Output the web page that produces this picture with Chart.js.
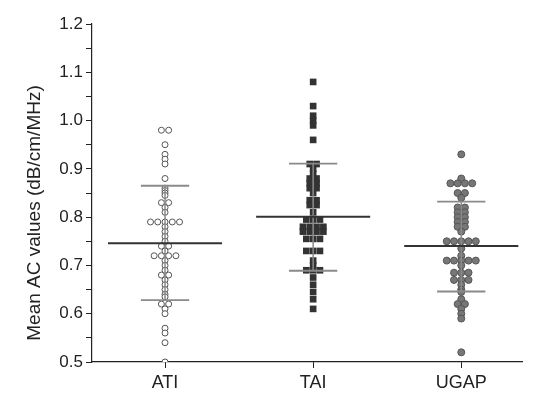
<!DOCTYPE html>
<html>
<head>
<meta charset="utf-8">
<script src="https://cdn.jsdelivr.net/npm/chart.js@4"></script>
<style>
  html, body { margin: 0; padding: 0; background: #fff; }
</style>
</head>
<body>
<canvas id="myChart" width="538" height="405"></canvas>
<script>
// categories and values
const categories = ["ATI", "TAI", "UGAP"];
const atiValues = [0.98, 0.98, 0.95, 0.93, 0.92, 0.91, 0.88, 0.86, 0.855, 0.85, 0.845, 0.83, 0.83, 0.82, 0.81,
  0.79, 0.79, 0.79, 0.79, 0.79, 0.78, 0.77, 0.76, 0.75, 0.74, 0.74, 0.73, 0.72, 0.72, 0.72, 0.72, 0.71, 0.70,
  0.69, 0.68, 0.68, 0.67, 0.66, 0.65, 0.64, 0.635, 0.62, 0.62, 0.61, 0.60, 0.57, 0.56, 0.54, 0.50];
const taiValues = [1.08, 1.03, 1.01, 1.00, 0.99, 0.96, 0.91, 0.91, 0.90, 0.89, 0.88, 0.88, 0.87, 0.87, 0.86, 0.86,
  0.85, 0.835, 0.835, 0.825, 0.825, 0.81, 0.795, 0.795, 0.795, 0.78, 0.78, 0.78, 0.78, 0.77, 0.77, 0.77, 0.77,
  0.755, 0.755, 0.755, 0.73, 0.73, 0.73, 0.71, 0.70, 0.69, 0.69, 0.69, 0.675, 0.66, 0.645, 0.63, 0.61];
const ugapValues = [0.93, 0.88, 0.87, 0.87, 0.87, 0.87, 0.85, 0.85, 0.84, 0.82, 0.82, 0.81, 0.81, 0.80, 0.80,
  0.79, 0.79, 0.78, 0.78, 0.77, 0.75, 0.75, 0.75, 0.75, 0.75, 0.735, 0.72, 0.71, 0.71, 0.71, 0.71, 0.71, 0.70,
  0.685, 0.685, 0.685, 0.67, 0.67, 0.67, 0.66, 0.65, 0.645, 0.63, 0.62, 0.62, 0.61, 0.60, 0.59, 0.52];
const means = [0.746, 0.801, 0.740];
const sdUpper = [0.865, 0.911, 0.832];
const sdLower = [0.628, 0.689, 0.646];
const yTickLabels = ["0.5", "0.6", "0.7", "0.8", "0.9", "1.0", "1.1", "1.2"];
const yTitle = "Mean AC values (dB/cm/MHz)";

// spread equal values side by side (dot plot)
function swarm(values, center, step) {
  const groups = {};
  values.forEach(v => {
    const k = v.toFixed(3);
    (groups[k] = groups[k] || []).push(v);
  });
  const pts = [];
  Object.values(groups).forEach(g => {
    g.forEach((v, i) => pts.push({ x: center + (i - (g.length - 1) / 2) * step, y: v }));
  });
  return pts;
}

function hSegments(yArr, half) {
  const d = [];
  yArr.forEach((y, i) => {
    d.push({ x: i + 1 - half, y: y }, { x: i + 1 + half, y: y }, { x: i + 1, y: null });
  });
  return d;
}

function vSegments() {
  const d = [];
  means.forEach((m, i) => {
    d.push({ x: i + 1, y: sdLower[i] }, { x: i + 1, y: sdUpper[i] }, { x: i + 1, y: null });
  });
  return d;
}

const lineDefaults = { showLine: true, pointRadius: 0, spanGaps: false, order: 0 };

const yTitlePlugin = {
  id: "yTitle",
  afterDraw(chart) {
    const ctx = chart.ctx;
    const area = chart.chartArea;
    ctx.save();
    ctx.translate(35, (area.top + area.bottom) / 2 + 20);
    ctx.rotate(-Math.PI / 2);
    ctx.font = '19px "Liberation Sans", Arial, sans-serif';
    ctx.fillStyle = "#222";
    ctx.textAlign = "center";
    ctx.textBaseline = "middle";
    ctx.fillText(yTitle, 0, 0);
    ctx.restore();
  }
};

const chart = new Chart(document.getElementById("myChart"), {
  type: "scatter",
  data: {
    datasets: [
      Object.assign({ data: hSegments(means, 0.385), borderColor: "#333", borderWidth: 2 }, lineDefaults),
      Object.assign({ data: hSegments(sdUpper, 0.163), borderColor: "#8a8a8a", borderWidth: 1.8 }, lineDefaults),
      Object.assign({ data: hSegments(sdLower, 0.163), borderColor: "#8a8a8a", borderWidth: 1.8 }, lineDefaults),
      Object.assign({ data: vSegments(), borderColor: "#8a8a8a", borderWidth: 1.5 }, lineDefaults),
      {
        label: "ATI", data: swarm(atiValues, 1, 0.049), order: 1,
        pointStyle: "circle", pointRadius: 3, backgroundColor: "#fff", borderColor: "#555", borderWidth: 1
      },
      {
        label: "TAI", data: swarm(taiValues, 2, 0.046), order: 1,
        pointStyle: "rect", pointRadius: 4.7, backgroundColor: "#333", borderColor: "#333", borderWidth: 0
      },
      {
        label: "UGAP", data: swarm(ugapValues, 3, 0.049), order: 1,
        pointStyle: "circle", pointRadius: 3.5, backgroundColor: "#777", borderColor: "#555", borderWidth: 1
      }
    ]
  },
  options: {
    responsive: false,
    animation: false,
    layout: { padding: { top: 24, right: 16, left: 0, bottom: 0 } },
    plugins: { legend: { display: false }, tooltip: { enabled: false } },
    scales: {
      x: {
        type: "linear",
        min: 0.507,
        max: 3.41,
        afterBuildTicks: axis => { axis.ticks = categories.map((c, i) => ({ value: i + 1 })); },
        afterFit: axis => { axis.height = 43; },
        border: { display: true, color: "#222", width: 1.2 },
        grid: { display: true, drawOnChartArea: false, drawTicks: true, tickLength: 6, color: "#222" },
        ticks: {
          padding: 4,
          color: "#222",
          font: { family: '"Liberation Sans", Arial, sans-serif', size: 18 },
          callback: v => categories[Math.round(v) - 1]
        }
      },
      y: {
        min: 0.5,
        max: 1.2,
        afterFit: axis => { axis.width = 92; },
        border: { display: true, color: "#222", width: 1.2 },
        grid: { display: true, drawOnChartArea: false, drawTicks: true, tickLength: 6, color: "#222" },
        ticks: {
          stepSize: 0.05,
          padding: 3,
          color: "#222",
          font: { family: '"Liberation Sans", Arial, sans-serif', size: 17 },
          callback: v => {
            const k = Math.round(v * 100);
            return k % 10 === 0 ? yTickLabels[(k - 50) / 10] : "";
          }
        }
      }
    }
  },
  plugins: [yTitlePlugin]
});
</script>
</body>
</html>
